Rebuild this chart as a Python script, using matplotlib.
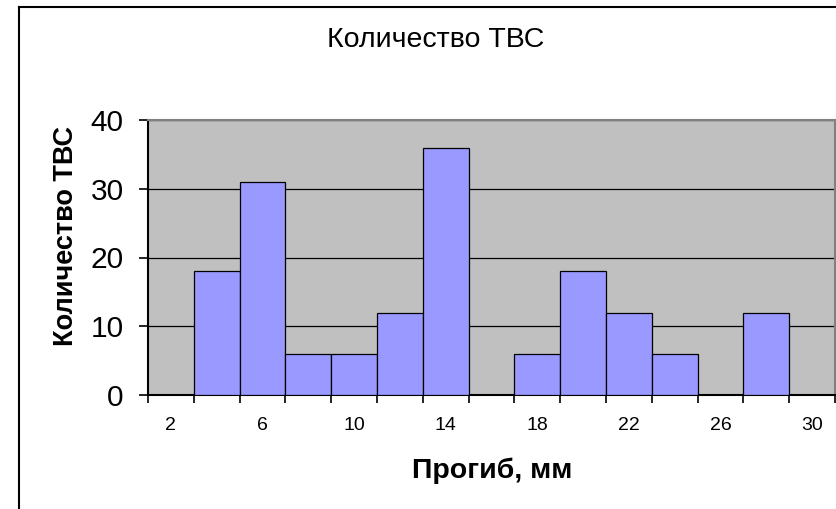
import matplotlib
matplotlib.use("Agg")
import matplotlib.pyplot as plt
from matplotlib.lines import Line2D
import numpy as np

plt.rcParams['font.family'] = ['Liberation Sans', 'DejaVu Sans']

# Histogram bins (deflection, mm) and number of fuel assemblies per bin
deflection_mm = [2, 4, 6, 8, 10, 12, 14, 16, 18, 20, 22, 24, 26, 28, 30]
assembly_count = [0, 18, 31, 6, 6, 12, 36, 0, 6, 18, 12, 6, 0, 12, 0]
y_ticks = [0, 10, 20, 30, 40]

title_text = "Количество ТВС"
x_label = "Прогиб, мм"
y_label = "Количество ТВС"

fig = plt.figure(figsize=(8.36, 5.09), dpi=100)
ax = fig.add_axes([148 / 836, 1 - 395 / 509, (835 - 148) / 836, (395 - 120) / 509])

x = np.arange(len(deflection_mm))
ax.set_facecolor('#C0C0C0')
ax.set_axisbelow(True)
ax.grid(axis='y', color='black', linewidth=0.9)
ax.bar(x, assembly_count, width=1.0, color='#9999FF', edgecolor='black',
       linewidth=0.9, zorder=3)

ax.set_xlim(-0.5, len(deflection_mm) - 0.5)
ax.set_ylim(0, 40)

# tick marks sit on the bin boundaries, labels on every second bin
ax.set_xticks(np.arange(-0.5, len(deflection_mm), 1.0))
ax.set_xticklabels([])
ax.set_xticks(x[::2], minor=True)
ax.set_xticklabels([str(v) for v in deflection_mm[::2]], minor=True, fontsize=14)
ax.tick_params(axis='x', which='major', direction='out', length=6, width=1.2, color='black')
ax.tick_params(axis='x', which='minor', length=0, pad=16)

ax.set_yticks(y_ticks)
ax.set_yticklabels([str(v) for v in y_ticks], fontsize=21.5)
ax.tick_params(axis='y', direction='out', length=6.5, width=1.2, pad=11)

for side in ['left', 'bottom']:
    ax.spines[side].set_color('black')
    ax.spines[side].set_linewidth(1.5)
for side in ['top', 'right']:
    ax.spines[side].set_color('#808080')
    ax.spines[side].set_linewidth(1.5)

fig.text(436 / 836, 1 - 40 / 509, title_text, fontsize=20.5, ha='center', va='center')
fig.text(492 / 836, 1 - 471 / 509, x_label, fontsize=20.5, fontweight='bold',
         ha='center', va='center')
fig.text(66 / 836, 1 - 236 / 509, y_label, fontsize=19.5, fontweight='bold',
         ha='center', va='center', rotation=90)

# chart frame
fig.add_artist(Line2D([19 / 836, 19 / 836], [0, 1 - 7 / 509], transform=fig.transFigure,
                      color='black', linewidth=1.5))
fig.add_artist(Line2D([19 / 836, 1], [1 - 7 / 509, 1 - 7 / 509], transform=fig.transFigure,
                      color='black', linewidth=1.5))

fig.savefig('out.png', dpi=100)
